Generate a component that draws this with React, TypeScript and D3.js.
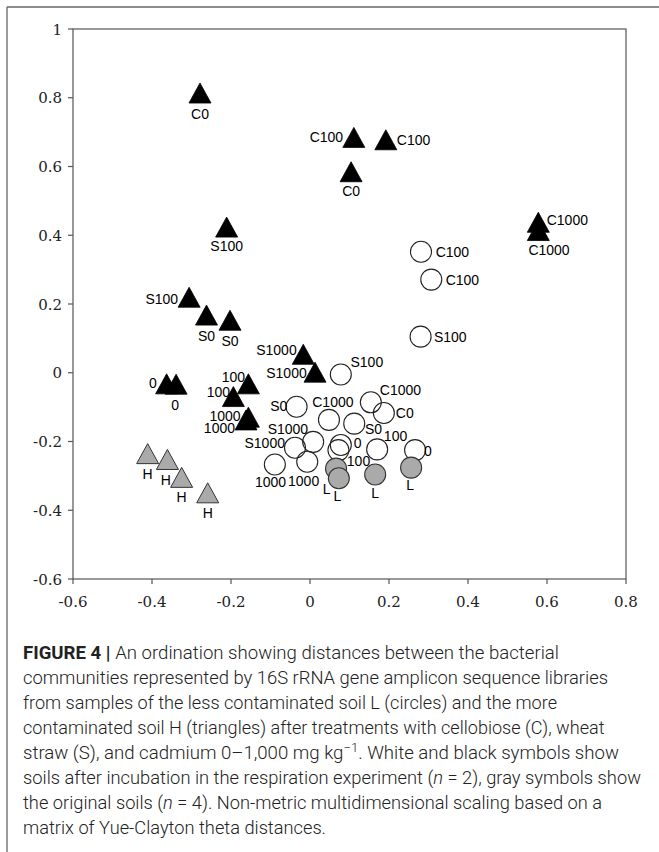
import React from "react";
import * as d3 from "d3";

// ---------- data ----------
const xTicks = [-0.6, -0.4, -0.2, 0, 0.2, 0.4, 0.6, 0.8];
const yTicks = [1, 0.8, 0.6, 0.4, 0.2, 0, -0.2, -0.4, -0.6];

// soil H after incubation (black triangles)
const blackTriangles = [
  { x: -0.2785, y: 0.804, label: "C0" },
  { x: 0.104, y: 0.575, label: "C0" },
  { x: 0.111, y: 0.675, label: "C100" },
  { x: 0.192, y: 0.668, label: "C100" },
  { x: 0.578, y: 0.428, label: "C1000" },
  { x: 0.578, y: 0.404, label: "C1000" },
  { x: -0.211, y: 0.414, label: "S100" },
  { x: -0.306, y: 0.21, label: "S100" },
  { x: -0.262, y: 0.158, label: "S0" },
  { x: -0.2025, y: 0.143, label: "S0" },
  { x: -0.017, y: 0.044, label: "S1000" },
  { x: 0.0127, y: -0.008, label: "S1000" },
  { x: -0.363, y: -0.042, label: "0" },
  { x: -0.339, y: -0.043, label: "0" },
  { x: -0.156, y: -0.042, label: "100" },
  { x: -0.194, y: -0.079, label: "100" },
  { x: -0.156, y: -0.139, label: "1000" },
  { x: -0.162, y: -0.147, label: "1000" },
];

// original soil H (gray triangles)
const grayTriangles = [
  { x: -0.411, y: -0.245, label: "H" },
  { x: -0.361, y: -0.262, label: "H" },
  { x: -0.325, y: -0.314, label: "H" },
  { x: -0.259, y: -0.359, label: "H" },
];

// soil L after incubation (white circles)
const whiteCircles = [
  { x: 0.281, y: 0.352, label: "C100" },
  { x: 0.307, y: 0.271, label: "C100" },
  { x: 0.28, y: 0.105, label: "S100" },
  { x: 0.078, y: -0.005, label: "S100" },
  { x: -0.034, y: -0.099, label: "S0" },
  { x: 0.048, y: -0.137, label: "C1000" },
  { x: 0.112, y: -0.148, label: "S0" },
  { x: 0.154, y: -0.086, label: "C1000" },
  { x: 0.187, y: -0.117, label: "C0" },
  { x: -0.038, y: -0.218, label: "S1000" },
  { x: 0.008, y: -0.201, label: "S1000" },
  { x: -0.089, y: -0.267, label: "1000" },
  { x: -0.007, y: -0.259, label: "1000" },
  { x: 0.072, y: -0.225, label: "100" },
  { x: 0.078, y: -0.21, label: "0" },
  { x: 0.17, y: -0.223, label: "100" },
  { x: 0.266, y: -0.225, label: "0" },
];

// original soil L (gray circles)
const grayCircles = [
  { x: 0.066, y: -0.279, label: "L" },
  { x: 0.073, y: -0.307, label: "L" },
  { x: 0.165, y: -0.296, label: "L" },
  { x: 0.256, y: -0.276, label: "L" },
];

// ---------- label placement (layout, px offsets from mark) ----------
type Place = [number, number, "start" | "middle" | "end"];
const blackTriangleLabelPos: Place[] = [
  [0, 23, "middle"],
  [0, 21, "middle"],
  [-10.7, 1.7, "end"],
  [11, 1.4, "start"],
  [8.4, -1, "start"],
  [10.7, 21.2, "middle"],
  [0, 21, "middle"],
  [-11, 3, "end"],
  [0, 22.7, "middle"],
  [0, 22, "middle"],
  [-6.6, -2.6, "end"],
  [-8.3, 2.1, "end"],
  [-9.7, 1.2, "end"],
  [-1, 22, "middle"],
  [-3.3, -5.3, "end"],
  [-3.3, -3.1, "end"],
  [-7.8, 0.5, "end"],
  [-11, 9.8, "end"],
];
const grayTriangleLabelPos: Place[] = [
  [0, 22.4, "middle"],
  [-1.6, 21.7, "middle"],
  [0, 21.3, "middle"],
  [0, 22, "middle"],
];
const whiteCircleLabelPos: Place[] = [
  [14.7, 5, "start"],
  [14.4, 5, "start"],
  [13.3, 5, "start"],
  [9.7, -7.3, "start"],
  [-9.2, 4.2, "end"],
  [-16.7, -12.8, "start"],
  [10.8, 10.7, "start"],
  [9, -7.1, "start"],
  [12, 4.8, "start"],
  [-10, 0, "end"],
  [-5, -8.2, "end"],
  [-4.3, 22.7, "middle"],
  [-3.6, 24.5, "middle"],
  [8.4, 15.5, "start"],
  [13, 3.5, "start"],
  [6.7, -8.3, "start"],
  [9, 5.8, "start"],
];
const grayCircleLabelPos: Place[] = [
  [-9.3, 25.7, "middle"],
  [-1.4, 23, "middle"],
  [0, 23.3, "middle"],
  [-1, 22.7, "middle"],
];

const captionLines = [
  { text: "An ordination showing distances between the bacterial", end: 559 },
  { text: "communities represented by 16S rRNA gene amplicon sequence libraries", end: 608 },
  { text: "from samples of the less contaminated soil L (circles) and the more", end: 557 },
  { text: "contaminated soil H (triangles) after treatments with cellobiose (C), wheat", end: 604.5 },
  { text: "straw (S), and cadmium 0–1,000 mg kg", end: 619 },
  { text: "soils after incubation in the respiration experiment (", end: 641 },
  { text: "the original soils (", end: 602 },
  { text: "matrix of Yue-Clayton theta distances.", end: 326 },
];

// ---------- chart ----------
const W = 659;
const H = 852;
const left = 73, right = 626, top = 29, bottom = 579;

const x = d3.scaleLinear().domain([-0.6, 0.8]).range([left, right]);
const y = d3.scaleLinear().domain([-0.6, 1]).range([bottom, top]);

const triSide = 22;
const triH = 20;
const triPath = `M0,${-triH * 2 / 3}L${triSide / 2},${triH / 3}L${-triSide / 2},${triH / 3}Z`;
const R = 10.5;

const fmt = (v: number) => (v === 0 ? "0" : v === 1 ? "1" : d3.format(".1f")(v).replace("−", "-"));

const labelStyle: React.CSSProperties = {
  fontFamily: "'Liberation Sans', Arial, sans-serif",
  fontSize: 14,
};
const tickStyle: React.CSSProperties = {
  fontFamily: "'DejaVu Serif', serif",
  fontSize: 15,
};

function Label({ px, py, text, pos }: { px: number; py: number; text: string; pos: Place }) {
  return (
    <text x={px + pos[0]} y={py + pos[1]} textAnchor={pos[2]} style={labelStyle} fill="#000">
      {text}
    </text>
  );
}

export default function App() {
  const capX = 23;
  const capY0 = 659;
  const capDy = 25;
  const capStyle: React.CSSProperties = {
    fontFamily: "Roboto, 'Liberation Sans', sans-serif",
    fontWeight: 300,
    fontSize: 18.5,
  };
  return (
    <svg
      width={W}
      height={H}
      viewBox={`0 0 ${W} ${H}`}
      style={{ position: "absolute", left: 0, top: 0, background: "#fff" }}
    >
      <rect x={0} y={0} width={W} height={H} fill="#fff" />
      {/* outer figure frame */}
      <line x1={7} y1={7} x2={W} y2={7} stroke="#666" strokeWidth={1.3} />
      <line x1={7} y1={7} x2={7} y2={H} stroke="#666" strokeWidth={1.3} />

      {/* plot box */}
      <rect x={left} y={top} width={right - left} height={bottom - top} fill="none" stroke="#555" strokeWidth={1.2} />

      {/* y ticks */}
      {yTicks.map((t) => (
        <g key={"y" + t}>
          <line x1={left - 5} x2={left} y1={y(t)} y2={y(t)} stroke="#555" strokeWidth={1.2} />
          <text x={left - 11} y={y(t) + 5.5} textAnchor="end" style={tickStyle} fill="#222">
            {fmt(t)}
          </text>
        </g>
      ))}
      {/* x ticks */}
      {xTicks.map((t) => (
        <g key={"x" + t}>
          <line x1={x(t)} x2={x(t)} y1={bottom} y2={bottom + 5} stroke="#555" strokeWidth={1.2} />
          <text x={x(t)} y={607} textAnchor="middle" style={tickStyle} fill="#222">
            {fmt(t)}
          </text>
        </g>
      ))}

      {/* white circles */}
      {whiteCircles.map((d, i) => (
        <circle key={"wc" + i} cx={x(d.x)} cy={y(d.y)} r={R} fill="none" stroke="#222" strokeWidth={1.1} />
      ))}
      {/* gray circles */}
      {grayCircles.map((d, i) => (
        <circle key={"gc" + i} cx={x(d.x)} cy={y(d.y)} r={R} fill="#aaaaaa" stroke="#333" strokeWidth={1.1} />
      ))}
      {/* gray triangles */}
      {grayTriangles.map((d, i) => (
        <path key={"gt" + i} d={triPath} transform={`translate(${x(d.x)},${y(d.y)})`} fill="#aaaaaa" stroke="#333" strokeWidth={1} />
      ))}
      {/* black triangles */}
      {blackTriangles.map((d, i) => (
        <path key={"bt" + i} d={triPath} transform={`translate(${x(d.x)},${y(d.y)})`} fill="#000" stroke="#000" strokeWidth={0.8} />
      ))}

      {/* labels */}
      {whiteCircles.map((d, i) => (
        <Label key={"lwc" + i} px={x(d.x)} py={y(d.y)} text={d.label} pos={whiteCircleLabelPos[i]} />
      ))}
      {grayCircles.map((d, i) => (
        <Label key={"lgc" + i} px={x(d.x)} py={y(d.y)} text={d.label} pos={grayCircleLabelPos[i]} />
      ))}
      {grayTriangles.map((d, i) => (
        <Label key={"lgt" + i} px={x(d.x)} py={y(d.y)} text={d.label} pos={grayTriangleLabelPos[i]} />
      ))}
      {blackTriangles.map((d, i) => (
        <Label key={"lbt" + i} px={x(d.x)} py={y(d.y)} text={d.label} pos={blackTriangleLabelPos[i]} />
      ))}

      {/* caption */}
      <g fill="#222" style={capStyle}>
        <text x={capX} y={capY0} textLength={captionLines[0].end - capX} lengthAdjust="spacingAndGlyphs">
          <tspan fontWeight={700}>FIGURE 4 | </tspan>
          {captionLines[0].text}
        </text>
        {[1, 2, 3].map((k) => (
          <text key={"cap" + k} x={capX} y={capY0 + capDy * k} textLength={captionLines[k].end - capX} lengthAdjust="spacingAndGlyphs">
            {captionLines[k].text}
          </text>
        ))}
        <text x={capX} y={capY0 + capDy * 4} textLength={captionLines[4].end - capX} lengthAdjust="spacingAndGlyphs">
          {captionLines[4].text}
          <tspan dy={-7} fontSize={13}>−1</tspan>
          <tspan dy={7}>. White and black symbols show</tspan>
        </text>
        <text x={capX} y={capY0 + capDy * 5} textLength={captionLines[5].end - capX} lengthAdjust="spacingAndGlyphs">
          {captionLines[5].text}
          <tspan fontStyle="italic">n</tspan>
          <tspan>{" = 2), gray symbols show"}</tspan>
        </text>
        <text x={capX} y={capY0 + capDy * 6} textLength={captionLines[6].end - capX} lengthAdjust="spacingAndGlyphs">
          {captionLines[6].text}
          <tspan fontStyle="italic">n</tspan>
          <tspan>{" = 4). Non-metric multidimensional scaling based on a"}</tspan>
        </text>
        <text x={capX} y={capY0 + capDy * 7} textLength={captionLines[7].end - capX} lengthAdjust="spacingAndGlyphs">
          {captionLines[7].text}
        </text>
      </g>
    </svg>
  );
}
